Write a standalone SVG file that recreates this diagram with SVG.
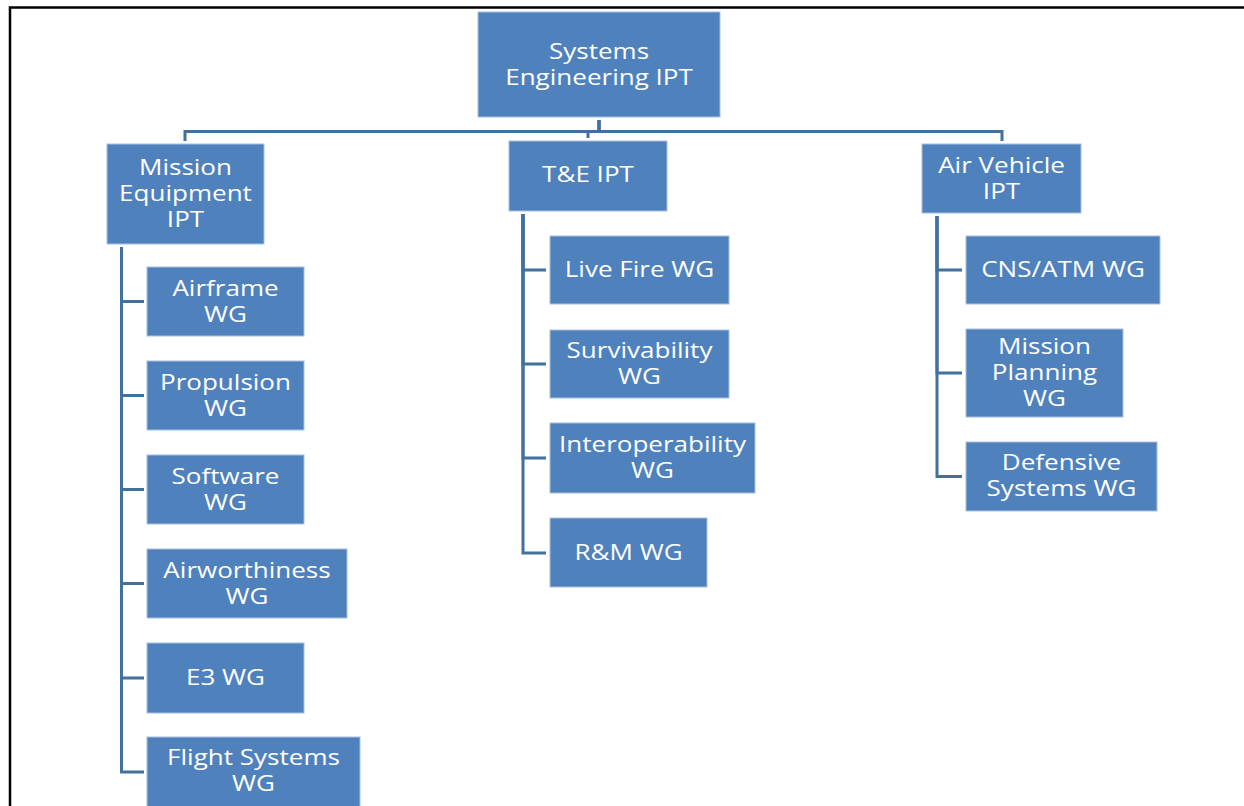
<svg xmlns="http://www.w3.org/2000/svg" width="1244" height="806" viewBox="0 0 1244 806">
<style>
.box{fill:#4f81bd;stroke:#a7c0e0;stroke-width:1}
.lbl{font-family:"Open Sans","Liberation Sans",sans-serif;font-size:21px;fill:#ffffff;text-anchor:middle}
.con{fill:none;stroke:#41719c;stroke-width:3}
</style>
<rect x="0" y="0" width="1244" height="806" fill="#ffffff"/>
<path d="M10,806 V7.5 H1244" fill="none" stroke="#000000" stroke-width="2.5"/>
<g id="connectors">
<path class="con" d="M599,120 V131.5 H185 V141"/>
<path class="con" d="M599,120 V131.5 H588 V138"/>
<path class="con" d="M599,120 V131.5 H1002 V141"/>
<path class="con" d="M121.5,247 V301.5 H144"/>
<path class="con" d="M121.5,247 V395.5 H144"/>
<path class="con" d="M121.5,247 V489.5 H144"/>
<path class="con" d="M121.5,247 V583.5 H144"/>
<path class="con" d="M121.5,247 V678 H144"/>
<path class="con" d="M121.5,247 V772 H144"/>
<path class="con" d="M523,214 V270 H546"/>
<path class="con" d="M523,214 V364 H546"/>
<path class="con" d="M523,214 V458 H546"/>
<path class="con" d="M523,214 V553 H546"/>
<path class="con" d="M937,216 V270 H962"/>
<path class="con" d="M937,216 V373 H962"/>
<path class="con" d="M937,216 V476.5 H962"/>
</g>
<g id="se"><rect class="box" x="478" y="12" width="242" height="105"/>
<g transform="translate(599 0) scale(1.24 1)"><text class="lbl" x="0" y="59">Systems</text><text class="lbl" x="0" y="85">Engineering IPT</text></g></g>
<g id="me"><rect class="box" x="107" y="144" width="157" height="100"/>
<g transform="translate(185.5 0) scale(1.24 1)"><text class="lbl" x="0" y="175.5">Mission</text><text class="lbl" x="0" y="201.5">Equipment</text><text class="lbl" x="0" y="227.5">IPT</text></g></g>
<g id="te"><rect class="box" x="509" y="141" width="158" height="70"/>
<g transform="translate(588 0) scale(1.24 1)"><text class="lbl" x="0" y="182.5">T&amp;E IPT</text></g></g>
<g id="av"><rect class="box" x="922" y="144" width="159" height="69"/>
<g transform="translate(1001.5 0) scale(1.24 1)"><text class="lbl" x="0" y="173">Air Vehicle</text><text class="lbl" x="0" y="199">IPT</text></g></g>
<g id="airframe"><rect class="box" x="147" y="267" width="157" height="69"/>
<g transform="translate(225.5 0) scale(1.24 1)"><text class="lbl" x="0" y="296">Airframe</text><text class="lbl" x="0" y="322">WG</text></g></g>
<g id="propulsion"><rect class="box" x="147" y="361" width="157" height="69"/>
<g transform="translate(225.5 0) scale(1.24 1)"><text class="lbl" x="0" y="390">Propulsion</text><text class="lbl" x="0" y="416">WG</text></g></g>
<g id="software"><rect class="box" x="147" y="455" width="157" height="69"/>
<g transform="translate(225.5 0) scale(1.24 1)"><text class="lbl" x="0" y="484">Software</text><text class="lbl" x="0" y="510">WG</text></g></g>
<g id="airworthiness"><rect class="box" x="147" y="549" width="200" height="69"/>
<g transform="translate(247 0) scale(1.24 1)"><text class="lbl" x="0" y="578">Airworthiness</text><text class="lbl" x="0" y="604">WG</text></g></g>
<g id="e3"><rect class="box" x="147" y="643" width="157" height="70"/>
<g transform="translate(225.5 0) scale(1.24 1)"><text class="lbl" x="0" y="685.5">E3 WG</text></g></g>
<g id="flight"><rect class="box" x="147" y="737" width="213" height="75"/>
<g transform="translate(253.5 0) scale(1.24 1)"><text class="lbl" x="0" y="765.5">Flight Systems</text><text class="lbl" x="0" y="791.5">WG</text></g></g>
<g id="livefire"><rect class="box" x="550" y="236" width="179" height="68"/>
<g transform="translate(639.5 0) scale(1.24 1)"><text class="lbl" x="0" y="277.5">Live Fire WG</text></g></g>
<g id="surv"><rect class="box" x="550" y="330" width="179" height="68"/>
<g transform="translate(639.5 0) scale(1.24 1)"><text class="lbl" x="0" y="358.5">Survivability</text><text class="lbl" x="0" y="384.5">WG</text></g></g>
<g id="interop"><rect class="box" x="550" y="423" width="205" height="70"/>
<g transform="translate(652.5 0) scale(1.24 1)"><text class="lbl" x="0" y="452.5">Interoperability</text><text class="lbl" x="0" y="478.5">WG</text></g></g>
<g id="rm"><rect class="box" x="550" y="518" width="157" height="69"/>
<g transform="translate(628.5 0) scale(1.24 1)"><text class="lbl" x="0" y="560">R&amp;M WG</text></g></g>
<g id="cns"><rect class="box" x="966" y="236" width="194" height="68"/>
<g transform="translate(1063 0) scale(1.24 1)"><text class="lbl" x="0" y="277.5">CNS/ATM WG</text></g></g>
<g id="mp"><rect class="box" x="966" y="329" width="157" height="88"/>
<g transform="translate(1044.5 0) scale(1.24 1)"><text class="lbl" x="0" y="354.5">Mission</text><text class="lbl" x="0" y="380.5">Planning</text><text class="lbl" x="0" y="406.5">WG</text></g></g>
<g id="def"><rect class="box" x="966" y="442" width="191" height="69"/>
<g transform="translate(1061.5 0) scale(1.24 1)"><text class="lbl" x="0" y="470.5">Defensive</text><text class="lbl" x="0" y="496.5">Systems WG</text></g></g>
</svg>
